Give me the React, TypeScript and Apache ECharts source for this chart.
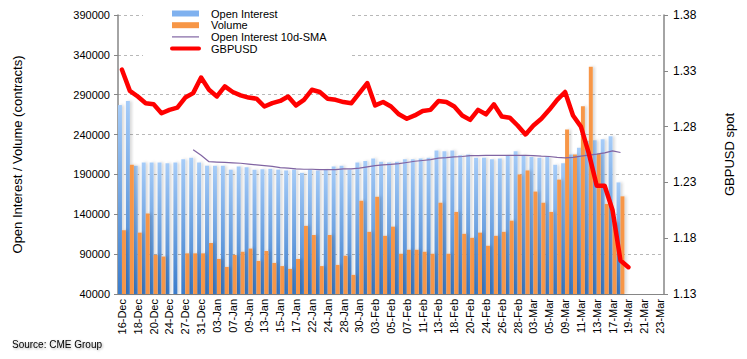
import React, { useEffect, useRef } from 'react';
import * as echarts from 'echarts';

const categories = [
  '16-Dec', '17-Dec', '18-Dec', '19-Dec', '20-Dec', '23-Dec', '24-Dec', '26-Dec', '27-Dec', '30-Dec', '31-Dec',
  '02-Jan', '03-Jan', '06-Jan', '07-Jan', '08-Jan', '09-Jan', '10-Jan', '13-Jan', '14-Jan', '15-Jan', '16-Jan',
  '17-Jan', '21-Jan', '22-Jan', '23-Jan', '24-Jan', '27-Jan', '28-Jan', '29-Jan', '30-Jan', '31-Jan',
  '03-Feb', '04-Feb', '05-Feb', '06-Feb', '07-Feb', '10-Feb', '11-Feb', '12-Feb', '13-Feb', '14-Feb', '18-Feb',
  '19-Feb', '20-Feb', '21-Feb', '24-Feb', '25-Feb', '26-Feb', '27-Feb', '28-Feb',
  '02-Mar', '03-Mar', '04-Mar', '05-Mar', '06-Mar', '09-Mar', '10-Mar', '11-Mar', '12-Mar', '13-Mar', '16-Mar',
  '17-Mar', '18-Mar', '19-Mar', '20-Mar', '21-Mar', '22-Mar', '23-Mar',
];

const openInterest = [
  277000, 282000, 201000, 205000, 205000, 205000, 204000, 205000, 209000, 211000,
  205000, 201000, 201000, 201000, 196000, 200000, 199000, 196000, 196500, 197000,
  196000, 195000, 196000, 192000, 196000, 195000, 196000, 200000, 201000, 196000,
  205000, 207000, 210000, 206000, 205000, 206000, 209000, 209000, 210000, 211000,
  220000, 219000, 220000, 214000, 215000, 211000, 211000, 209000, 210000, 214000,
  219000, 214000, 212000, 211000, 212000, 202000, 204000, 215000, 223500, 232000,
  233000, 234000, 238000, 180000, null, null, null, null, null,
];

const volume = [
  120000, 202000, 117000, 141000, 89000, 87000, null, null, 91000, 91000,
  91000, 104000, 84000, 74000, 89000, 93000, 97000, 81500, 94000, 79000,
  75000, 71500, 84000, 125500, 114000, 75000, 114000, 76500, 88000, 64000,
  157000, 118000, 162000, 113000, 124500, 90500, 95500, 95500, 93000, 90500,
  154500, 90500, 143000, 115500, 110500, 117000, 100500, 113000, 118000, 132000,
  190000, 195000, 168500, 154500, 143000, 183500, 246500, 215000, 275500, 325000,
  216000, 153000, 130000, 162500, null, null, null, null, null,
];

const oiSma10 = [
  null, null, null, null, null, null, null, null, null, 221000,
  214000, 206000, 205500, 205000, 204500, 204000, 203000, 202000, 201000, 200000,
  198500, 198000, 197000, 196500, 196500, 196000, 196000, 196000, 197000, 197000,
  198000, 199500, 201000, 202000, 202500, 203500, 205000, 206500, 207500, 208500,
  210500, 211000, 212000, 212500, 213500, 213500, 214000, 214000, 214000, 214000,
  214000, 214000, 213700, 213000, 212500, 211500, 210800, 211500, 213000, 214200,
  215500, 217000, 219500, 217500, null, null, null, null, null,
];

const gbpusd = [
  1.331, 1.312, 1.307, 1.301, 1.300, 1.292, 1.295, 1.297, 1.306, 1.310,
  1.324, 1.313, 1.307, 1.316, 1.311, 1.308, 1.306, 1.305, 1.298, 1.301,
  1.303, 1.307, 1.299, 1.304, 1.313, 1.311, 1.305, 1.304, 1.302, 1.301,
  1.310, 1.319, 1.299, 1.302, 1.298, 1.291, 1.287, 1.290, 1.294, 1.295,
  1.303, 1.302, 1.298, 1.290, 1.286, 1.295, 1.291, 1.300, 1.289, 1.288,
  1.281, 1.273, 1.281, 1.287, 1.295, 1.304, 1.311, 1.290, 1.280, 1.256,
  1.227, 1.227, 1.205, 1.160, 1.154, null, null, null, null,
];

const FONT = '"Liberation Sans", Arial, Helvetica, sans-serif';

export default function App() {
  const ref = useRef<HTMLDivElement>(null);

  useEffect(() => {
    document.body.style.margin = '0';
    if (!ref.current) return;
    const chart = echarts.init(ref.current, null, { renderer: 'svg' });

    const blueGrad = new echarts.graphic.LinearGradient(0, 0, 0, 1, [
      { offset: 0, color: '#a6ccf8' },
      { offset: 1, color: '#3a7ccb' },
    ]);

    chart.setOption({
      animation: false,
      textStyle: { fontFamily: FONT },
      grid: { left: 118, right: 83, top: 15, bottom: 65, outerBoundsMode: 'none' },
      legend: {
        orient: 'vertical',
        left: 143,
        top: 3,
        padding: [5, 23, 3, 27],
        backgroundColor: '#ffffff',
        itemGap: 0.7,
        itemWidth: 27,
        itemHeight: 6,
        textStyle: { fontSize: 11, color: '#000', fontFamily: FONT, padding: [0, 0, 0, 7] },
        data: [
          { name: 'Open Interest', icon: 'rect', itemStyle: { color: '#7fb1ef' } },
          { name: 'Volume', icon: 'rect' },
          { name: 'Open Interest 10d-SMA', itemStyle: { opacity: 0 }, lineStyle: { width: 1.2 } },
          { name: 'GBPUSD', itemStyle: { opacity: 0 }, lineStyle: { width: 4, cap: 'round' } },
        ],
      },
      xAxis: {
        type: 'category',
        data: categories,
        boundaryGap: true,
        axisLine: { lineStyle: { color: '#868686', width: 1 } },
        axisTick: { interval: 0, length: 4, lineStyle: { color: '#868686' } },
        axisLabel: { interval: 1, rotate: 90, fontSize: 11, color: '#000', margin: 5, fontFamily: FONT },
        splitLine: { show: false },
      },
      yAxis: [
        {
          type: 'value',
          min: 40000,
          max: 390000,
          interval: 50000,
          position: 'left',
          name: 'Open Interest / Volume (contracts)',
          nameLocation: 'middle',
          nameRotate: 90,
          nameGap: 94,
          nameTextStyle: { fontSize: 13, color: '#000', fontFamily: FONT },
          axisLine: { show: true, lineStyle: { color: '#868686', width: 1.5 } },
          axisTick: { show: true, length: 4, lineStyle: { color: '#868686' } },
          axisLabel: {
            fontSize: 11,
            color: '#000',
            margin: 8,
            fontFamily: FONT,
            formatter: (v: number) => String(Math.round(v)),
          },
          splitLine: { show: true, lineStyle: { color: '#b8b8b8', type: [3, 3], width: 1 } },
        },
        {
          type: 'value',
          min: 1.13,
          max: 1.38,
          interval: 0.05,
          position: 'right',
          name: 'GBPUSD spot',
          nameLocation: 'middle',
          nameRotate: 90,
          nameGap: 59,
          nameTextStyle: { fontSize: 13, color: '#000', fontFamily: FONT },
          axisLine: { show: true, lineStyle: { color: '#868686', width: 1.5 } },
          axisTick: { show: true, length: 4, lineStyle: { color: '#868686' } },
          axisLabel: {
            fontSize: 12,
            color: '#000',
            margin: 9,
            fontFamily: FONT,
            formatter: (v: number) => v.toFixed(2),
          },
          splitLine: { show: false },
        },
      ],
      series: [
        {
          name: 'Open Interest',
          type: 'bar',
          yAxisIndex: 0,
          data: openInterest,
          barGap: '0%',
          barCategoryGap: '0%',
          itemStyle: {
            color: blueGrad,
            shadowColor: 'rgba(0,0,0,0.16)',
            shadowBlur: 3,
            shadowOffsetX: 2,
          },
          z: 2,
        },
        {
          name: 'Volume',
          type: 'bar',
          yAxisIndex: 0,
          data: volume,
          barGap: '0%',
          barCategoryGap: '0%',
          itemStyle: {
            color: '#f79646',
            shadowColor: 'rgba(0,0,0,0.16)',
            shadowBlur: 3,
            shadowOffsetX: 2,
          },
          z: 2,
        },
        {
          name: 'Open Interest 10d-SMA',
          type: 'line',
          yAxisIndex: 0,
          data: oiSma10,
          symbol: 'none',
          lineStyle: { color: '#8064a2', width: 1.2 },
          itemStyle: { color: '#8064a2' },
          z: 4,
        },
        {
          name: 'GBPUSD',
          type: 'line',
          yAxisIndex: 1,
          data: gbpusd,
          symbol: 'none',
          lineStyle: { color: '#ff0000', width: 4.5, cap: 'round', join: 'round' },
          itemStyle: { color: '#ff0000' },
          z: 5,
        },
      ],
      graphic: [
        {
          type: 'text',
          left: 12,
          top: 339,
          style: {
            text: 'Source: CME Group',
            fontSize: 10,
            fontFamily: FONT,
            fill: '#000',
            textShadowColor: 'rgba(0,0,0,0.35)',
            textShadowBlur: 2,
            textShadowOffsetX: 1,
            textShadowOffsetY: 1,
          },
        },
      ],
    });

    return () => {
      chart.dispose();
    };
  }, []);

  return (
    <div
      ref={ref}
      style={{ position: 'fixed', left: 0, top: 0, width: 747, height: 359, background: '#fff' }}
    />
  );
}
